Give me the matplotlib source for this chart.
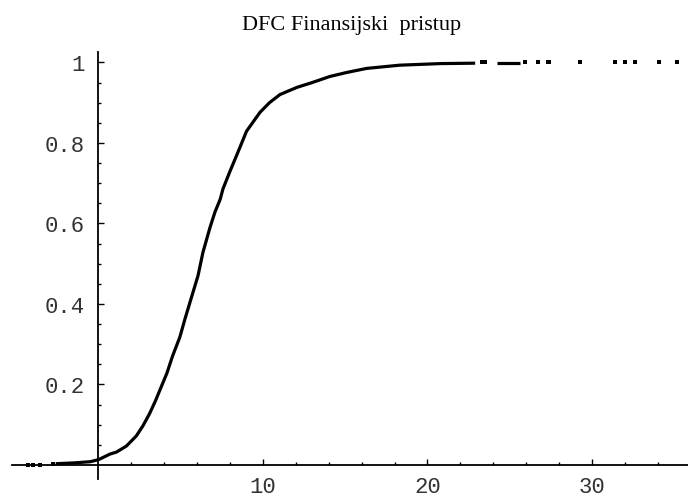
import matplotlib
matplotlib.use("Agg")
from matplotlib import pyplot as plt
from matplotlib.ticker import FixedLocator

cdf_x = [-2.6, -1.5, -0.5, 0.0, 0.7, 1.1, 1.7, 2.3, 2.7, 3.1, 3.45, 4.16, 4.5,
         4.95, 5.26, 5.68, 6.05, 6.35, 6.78, 7.08, 7.4, 7.57, 8.0, 8.48, 9.0,
         9.82, 10.4, 11.03, 12.07, 13.0, 14.07, 15.1, 16.3, 18.3, 20.8, 22.9]
cdf_y = [0.003, 0.005, 0.008, 0.013, 0.027, 0.032, 0.047, 0.072, 0.097, 0.127,
         0.158, 0.228, 0.27, 0.318, 0.363, 0.42, 0.47, 0.528, 0.59, 0.628, 0.66,
         0.686, 0.73, 0.777, 0.829, 0.876, 0.9, 0.92, 0.938, 0.95, 0.965,
         0.975, 0.985, 0.993, 0.997, 0.998]

# short run near 1 and isolated points in the tails
run_x = [24.2, 24.6, 25.0, 25.3, 25.6]
run_y = [0.999, 0.999, 0.999, 0.999, 0.999]
right_x = [23.3, 23.5, 25.9, 26.7, 27.3, 27.4, 29.3, 31.4, 32.0, 32.6, 34.1, 35.2]
right_y = [1.0] * len(right_x)
left_x = [-4.3, -4.0, -3.55, -2.77]
left_y = [0.001, 0.001, 0.001, 0.002]

x_major = [10, 20, 30]
x_minor = [2, 4, 6, 8, 12, 14, 16, 18, 22, 24, 26, 28, 32, 34]
y_major = [0.2, 0.4, 0.6, 0.8, 1.0]
y_labels = ["0.2", "0.4", "0.6", "0.8", "1"]
y_minor = [0.05, 0.1, 0.15, 0.25, 0.3, 0.35, 0.45, 0.5, 0.55, 0.65, 0.7,
           0.75, 0.85, 0.9, 0.95]

fig = plt.figure(figsize=(6.88, 5.02), dpi=100)
ax = fig.add_axes([0.0174, 0.0438, 0.9826, 0.850])

ax.plot(cdf_x, cdf_y, color="black", lw=2.3, solid_capstyle="butt")
ax.plot(run_x, run_y, color="black", lw=2.3, solid_capstyle="butt")
ax.plot(right_x, right_y, "s", color="black", ms=2.2, mew=0)
ax.plot(left_x, left_y, "s", color="black", ms=2.2, mew=0)

ax.set_xlim(-5.26, 35.84)
ax.set_ylim(-0.035, 1.025)

for s in ["top", "right"]:
    ax.spines[s].set_visible(False)
ax.spines["left"].set_position(("data", 0))
ax.spines["bottom"].set_position(("data", 0))
ax.spines["left"].set_linewidth(1.3)
ax.spines["bottom"].set_linewidth(1.3)

ax.xaxis.set_major_locator(FixedLocator(x_major))
ax.xaxis.set_minor_locator(FixedLocator(x_minor))
ax.yaxis.set_major_locator(FixedLocator(y_major))
ax.yaxis.set_minor_locator(FixedLocator(y_minor))
ax.set_yticklabels(y_labels)

ax.tick_params(which="both", direction="in", width=1.0, color="black")
ax.tick_params(which="major", length=4.5)
ax.tick_params(which="minor", length=2.5)
ax.tick_params(axis="x", which="major", pad=8)
ax.tick_params(axis="y", which="major", pad=10)

for lab in ax.get_xticklabels() + ax.get_yticklabels():
    lab.set_family("Liberation Mono")
    lab.set_fontsize(16)
    lab.set_color("#333333")

fig.text(0.511, 0.95, "DFC Finansijski  pristup", ha="center", va="center",
         family="Liberation Serif", fontsize=16)

fig.savefig("out.png", dpi=100)
